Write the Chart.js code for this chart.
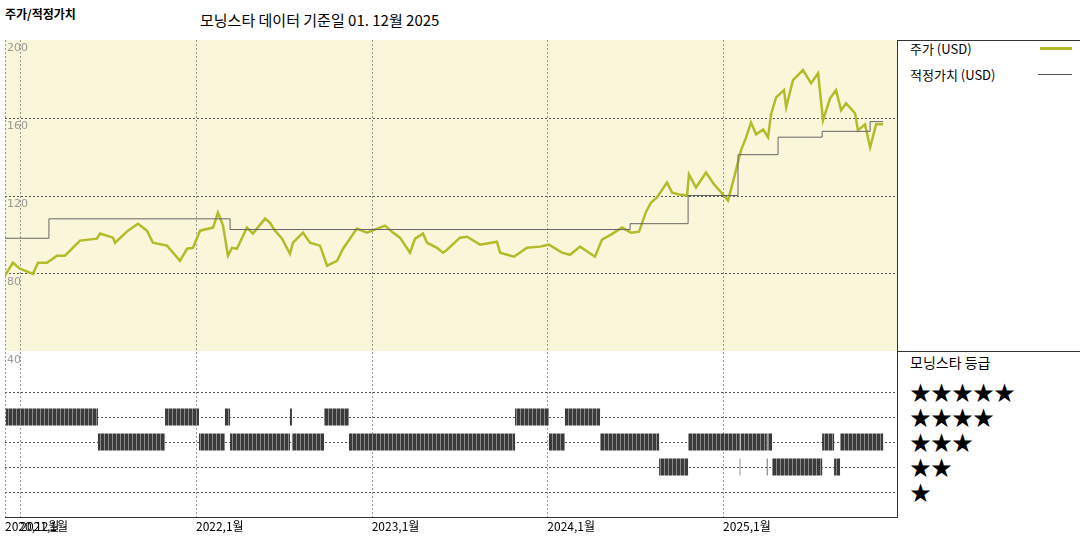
<!DOCTYPE html>
<html><head><meta charset="utf-8">
<script src="https://cdn.jsdelivr.net/npm/chart.js@4"></script>
<style>
body{margin:0;width:1080px;height:540px;background:#fff;position:relative;overflow:hidden;font-family:"Noto Sans CJK KR","Noto Sans",sans-serif;}
.t{position:absolute;white-space:nowrap;color:#000;}
canvas{position:absolute;}
</style></head><body>
<div class="t" style="left:5px;top:5px;font-size:12px;font-weight:bold;">주가/적정가치</div>
<div class="t" style="left:200px;top:9px;font-size:15px;">모닝스타 데이터 기준일 01. 12월 2025</div>
<div style="position:absolute;left:897px;top:40px;width:183px;height:1px;background:#333"></div>
<div style="position:absolute;left:897px;top:351px;width:183px;height:1px;background:#333"></div>
<div style="position:absolute;left:897px;top:40px;width:1px;height:477px;background:#333"></div>
<div style="position:absolute;left:5px;top:517px;width:893px;height:1px;background:#333"></div>
<div class="t" style="left:910px;top:39px;font-size:13px;">주가 (USD)</div>
<div style="position:absolute;left:1040px;top:47px;width:32px;height:3px;background:#b3bb2a"></div>
<div class="t" style="left:910px;top:65px;font-size:13px;">적정가치 (USD)</div>
<div style="position:absolute;left:1038px;top:74px;width:34px;height:1px;background:#555"></div>
<div class="t" style="left:910px;top:352px;font-size:14px;">모닝스타 등급</div>
<div class="t" style="left:910px;top:379px;font-size:21px;line-height:24px;">★★★★★</div>
<div class="t" style="left:910px;top:404px;font-size:21px;line-height:24px;">★★★★</div>
<div class="t" style="left:910px;top:429px;font-size:21px;line-height:24px;">★★★</div>
<div class="t" style="left:910px;top:454px;font-size:21px;line-height:24px;">★★</div>
<div class="t" style="left:910px;top:479px;font-size:21px;line-height:24px;">★</div>
<canvas id="c1" style="left:5px;top:40px;width:892px;height:311px"></canvas>
<canvas id="c2" style="left:5px;top:352px;width:892px;height:188px"></canvas>
<script>
const priceDates=[2020.901,2020.958,2020.998,2021.072,2021.101,2021.152,2021.209,2021.254,2021.340,2021.436,2021.454,2021.528,2021.539,2021.613,2021.670,2021.721,2021.755,2021.835,2021.909,2021.949,2021.983,2022.023,2022.097,2022.125,2022.154,2022.182,2022.205,2022.233,2022.290,2022.324,2022.393,2022.421,2022.450,2022.490,2022.535,2022.552,2022.609,2022.649,2022.706,2022.746,2022.803,2022.837,2022.916,2022.973,2023.076,2023.121,2023.161,2023.218,2023.247,2023.292,2023.315,2023.372,2023.406,2023.429,2023.503,2023.543,2023.617,2023.713,2023.731,2023.810,2023.884,2023.958,2024.009,2024.083,2024.129,2024.186,2024.271,2024.311,2024.362,2024.425,2024.476,2024.522,2024.562,2024.590,2024.624,2024.681,2024.710,2024.750,2024.795,2024.806,2024.846,2024.903,2024.949,2025.000,2025.028,2025.063,2025.102,2025.131,2025.159,2025.188,2025.228,2025.256,2025.273,2025.302,2025.347,2025.359,2025.398,2025.455,2025.501,2025.541,2025.569,2025.609,2025.643,2025.672,2025.700,2025.751,2025.768,2025.808,2025.837,2025.871,2025.911];
const priceValues=[77.2,85.4,82.3,79.7,85.4,85.4,89,89,96.8,97.8,100.4,98.3,95.7,101.9,105.5,101.9,95.7,94.2,86.4,92.6,93.1,101.9,103.5,111.2,104.5,89,93.1,92.6,103.5,100.4,108.1,106,101.9,97.8,90,95.7,100.9,95.7,94.2,83.9,86.4,92.6,103,100.9,104.5,100.9,98.3,90.6,97.8,100.4,95.7,93.1,90.6,92.1,98.3,98.8,94.7,96.2,90.6,88.5,93.1,93.7,94.7,90.6,89.5,93.7,88.5,97.3,99.9,103.5,100.9,101.4,111.7,116.4,119,126.7,121.5,120.5,120,130.8,124.1,131.8,125.7,120.5,117.4,129.3,143.2,149.9,157.6,151.5,154,149.9,161.8,170.5,174.2,165.4,179.3,184.5,177.8,182.9,158.7,170,174.2,163.8,167.5,162.3,153.5,156.6,144.7,156.6,156.6];
const fairDates=[2020.901,2021.163,2022.194,2024.471,2024.801,2025.085,2025.313,2025.564,2025.837,2025.911];
const fairValues=[98,108,102.5,105.5,120,141,150,153,158,158];
const ratingStart=[2020.918,2021.442,2021.824,2022.017,2022.165,2022.194,2022.535,2022.546,2022.729,2022.871,2023.816,2024.009,2024.100,2024.300,2024.636,2024.801,2025.095,2025.099,2025.249,2025.253,2025.279,2025.564,2025.632,2025.666];
const ratingEnd=[2021.442,2021.824,2022.017,2022.165,2022.194,2022.535,2022.546,2022.729,2022.871,2023.816,2024.009,2024.100,2024.300,2024.636,2024.801,2025.095,2025.099,2025.249,2025.253,2025.279,2025.564,2025.632,2025.666,2025.911];
const ratingStars=[4,3,4,3,4,3,4,3,4,3,4,3,4,3,2,3,2,3,2,3,2,3,2,3];
const priceTicks=[200,160,120,80];
const yearTicks=[2021,2022,2023,2024,2025];
const xLabels=[{v:2020.913,t:'2020,12월'},{v:2021,t:'2021,1월'},{v:2022,t:'2022,1월'},{v:2023,t:'2023,1월'},{v:2024,t:'2024,1월'},{v:2025,t:'2025,1월'}];
const XMIN=2020.913,XMAX=2025.99;

function gridPlugin(hLines,topLabel,bg,labels){return {id:'g',beforeDatasetsDraw(ch){
  const c=ch.ctx,a=ch.chartArea,x=ch.scales.x,y=ch.scales.y;
  c.save();c.fillStyle=bg;c.fillRect(a.left,a.top,a.right-a.left,a.bottom-a.top);
  c.setLineDash([2,2]);c.lineWidth=1;c.strokeStyle='#999';
  yearTicks.forEach(v=>{const p=Math.round(x.getPixelForValue(v))+.5;c.beginPath();c.moveTo(p,a.top);c.lineTo(p,a.bottom);c.stroke();});
  c.beginPath();c.moveTo(a.left+.5,a.top);c.lineTo(a.left+.5,a.bottom);c.stroke();
  c.strokeStyle='#555';
  hLines.forEach(v=>{const p=Math.round(y.getPixelForValue(v))+.5;c.beginPath();c.moveTo(a.left,p);c.lineTo(a.right,p);c.stroke();});
  c.setLineDash([]);
  c.fillStyle='#999';c.font='11px "DejaVu Sans"';c.textBaseline='top';c.textAlign='left';
  topLabel.forEach(o=>c.fillText(o.t,a.left+2,y.getPixelForValue(o.v)+3));
  if(labels){c.fillStyle='#000';c.font='12px "Noto Sans CJK KR"';labels.forEach(o=>c.fillText(o.t,x.getPixelForValue(o.v),a.bottom+3));}
  c.restore();}};}

const common={responsive:false,animation:false,events:[],plugins:{legend:{display:false},tooltip:{enabled:false}}};
function sizeCanvas(id){const e=document.getElementById(id);e.width=parseInt(e.style.width);e.height=parseInt(e.style.height);return e;}

new Chart(sizeCanvas('c1'),{type:'line',data:{datasets:[
 {data:fairDates.map((d,i)=>({x:d,y:fairValues[i]})),borderColor:'#666',borderWidth:1,pointRadius:0,stepped:true},
 {data:priceDates.map((d,i)=>({x:d,y:priceValues[i]})),borderColor:'#b3bb2a',borderWidth:2.5,pointRadius:0,tension:0}
]},options:{...common,layout:{padding:0},scales:{x:{type:'linear',min:XMIN,max:XMAX,display:false},y:{min:40,max:200,display:false}}},
plugins:[gridPlugin([160,120,80],priceTicks.map(v=>({v,t:String(v)})),'#faf6da',null)]});

const pc=document.createElement('canvas');pc.width=4;pc.height=4;const px=pc.getContext('2d');
px.fillStyle='#3a3a3a';px.fillRect(0,0,4,4);px.fillStyle='#8a8a8a';px.fillRect(3,0,1,4);
const pattern=px.createPattern(pc,'repeat');
const rpts=[];ratingStars.forEach((r,i)=>{rpts.push({x:ratingStart[i],y:r},{x:ratingEnd[i],y:r},{x:ratingEnd[i],y:null});});
new Chart(sizeCanvas('c2'),{type:'line',data:{datasets:[
 {data:rpts,borderColor:pattern,borderWidth:17,borderCapStyle:'butt',pointRadius:0,spanGaps:false}
]},options:{...common,layout:{padding:{bottom:23}},scales:{x:{type:'linear',min:XMIN,max:XMAX,display:false},y:{min:0,max:6.6,display:false}}},
plugins:[gridPlugin([5,4,3,2,1],[{v:6.6,t:'40'}],'#fff',xLabels)]});
</script></body></html>
